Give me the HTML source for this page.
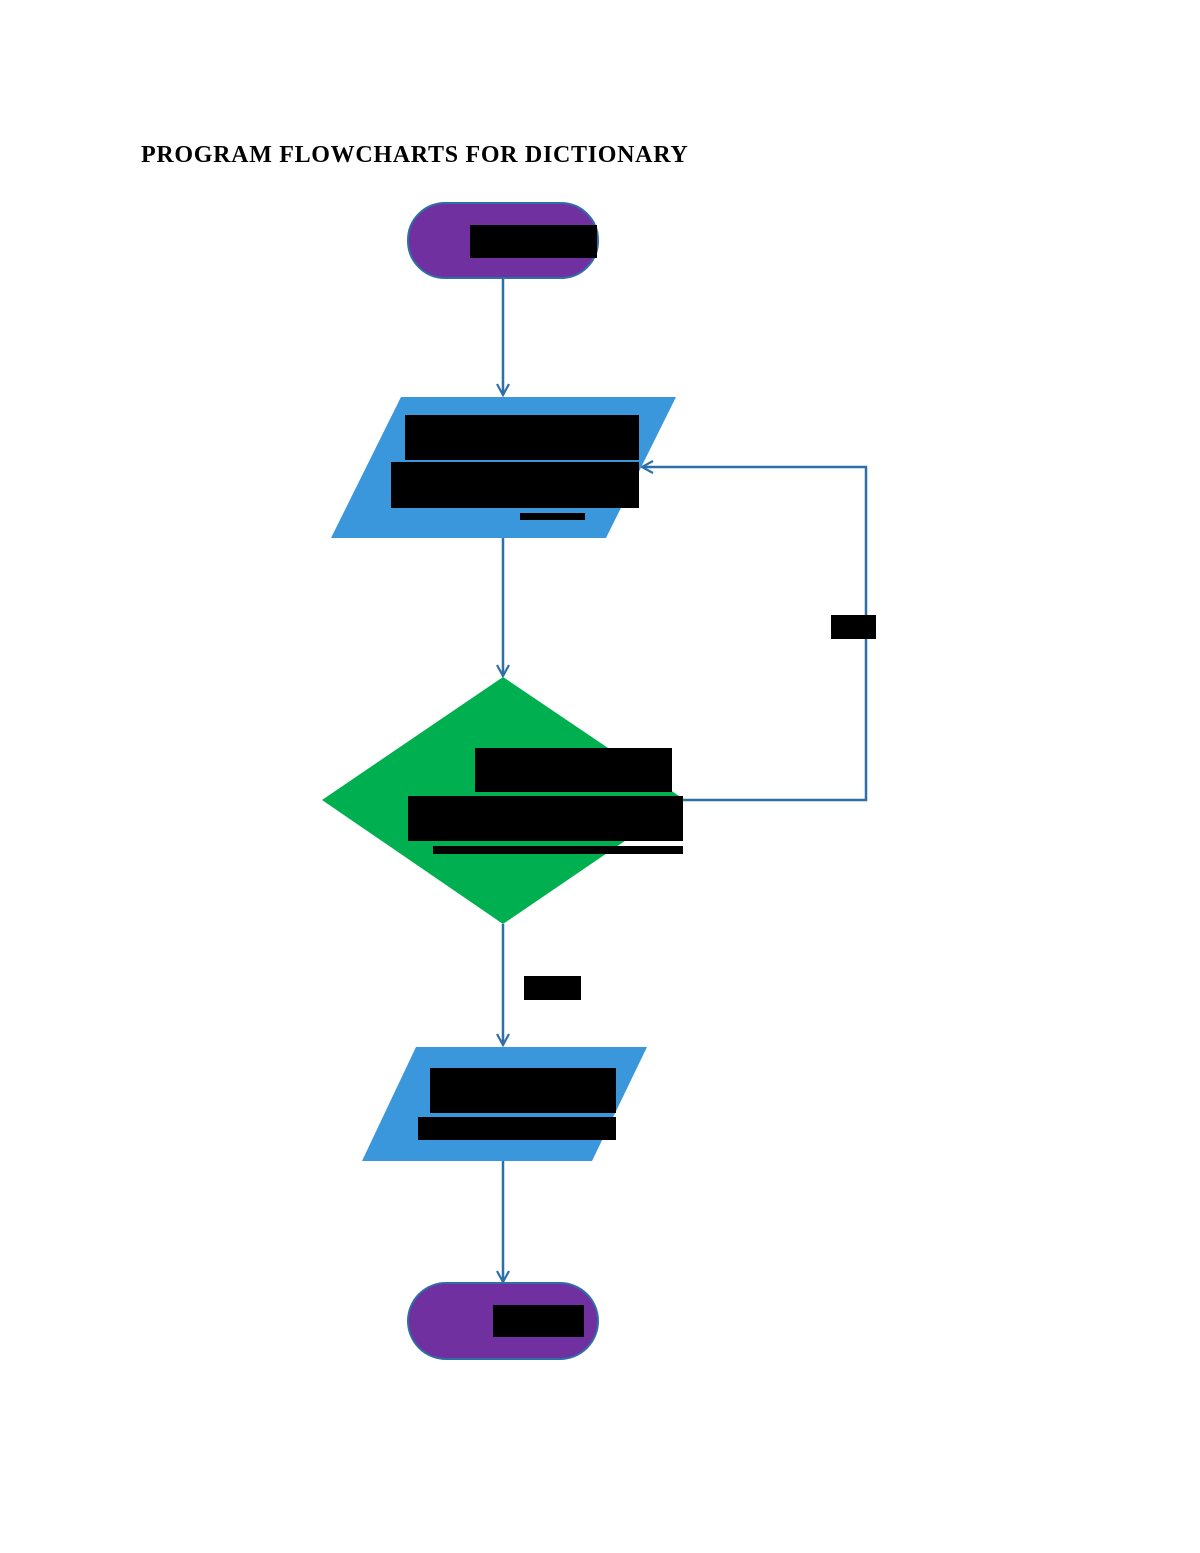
<!DOCTYPE html>
<html><head><meta charset="utf-8"><style>
html,body{margin:0;padding:0;background:#fff;}
body{width:1200px;height:1553px;position:relative;overflow:hidden;}
.t{position:absolute;left:141px;top:142px;font-family:"Liberation Serif",serif;font-weight:bold;font-size:24px;letter-spacing:0.7px;color:#000;white-space:nowrap;}
</style></head><body>
<div class="t">PROGRAM FLOWCHARTS FOR DICTIONARY</div>
<svg width="1200" height="1553" style="position:absolute;left:0;top:0">
<defs><marker id="a" markerWidth="14" markerHeight="14" refX="12" refY="7" orient="auto" markerUnits="userSpaceOnUse"><path d="M1,1 L12,7 L1,13" fill="none" stroke="#2f6fa8" stroke-width="2.2"/></marker></defs>
<g stroke="#2f6fa8" stroke-width="2.5" fill="none">
<line x1="503" y1="278" x2="503" y2="395" marker-end="url(#a)"/>
<line x1="503" y1="538" x2="503" y2="676" marker-end="url(#a)"/>
<polyline points="683,800 866,800 866,467 642,467" marker-end="url(#a)"/>
<line x1="503" y1="924" x2="503" y2="1045" marker-end="url(#a)"/>
<line x1="503" y1="1161" x2="503" y2="1282" marker-end="url(#a)"/>
</g>
<rect x="408" y="203" width="190" height="75" rx="37" fill="#7030a0" stroke="#2f6fa8" stroke-width="2"/>
<rect x="470" y="225" width="127" height="33" fill="#000"/>
<polygon points="401,397 676,397 606,538 331,538" fill="#3a97dc"/>
<rect x="405" y="415" width="234" height="45" fill="#000"/>
<rect x="391" y="462" width="248" height="46" fill="#000"/>
<rect x="520" y="513" width="65" height="7" fill="#000"/>
<polygon points="503,677 685,800 503,924 322,800" fill="#00b050"/>
<rect x="475" y="748" width="197" height="44" fill="#000"/>
<rect x="408" y="796" width="275" height="45" fill="#000"/>
<rect x="433" y="846" width="250" height="8" fill="#000"/>
<rect x="831" y="615" width="45" height="24" fill="#000"/>
<rect x="524" y="976" width="57" height="24" fill="#000"/>
<polygon points="416,1047 647,1047 592,1161 362,1161" fill="#3a97dc"/>
<rect x="430" y="1068" width="186" height="45" fill="#000"/>
<rect x="418" y="1117" width="198" height="23" fill="#000"/>
<rect x="408" y="1283" width="190" height="76" rx="38" fill="#7030a0" stroke="#2f6fa8" stroke-width="2"/>
<rect x="493" y="1305" width="91" height="32" fill="#000"/>
</svg>
</body></html>
